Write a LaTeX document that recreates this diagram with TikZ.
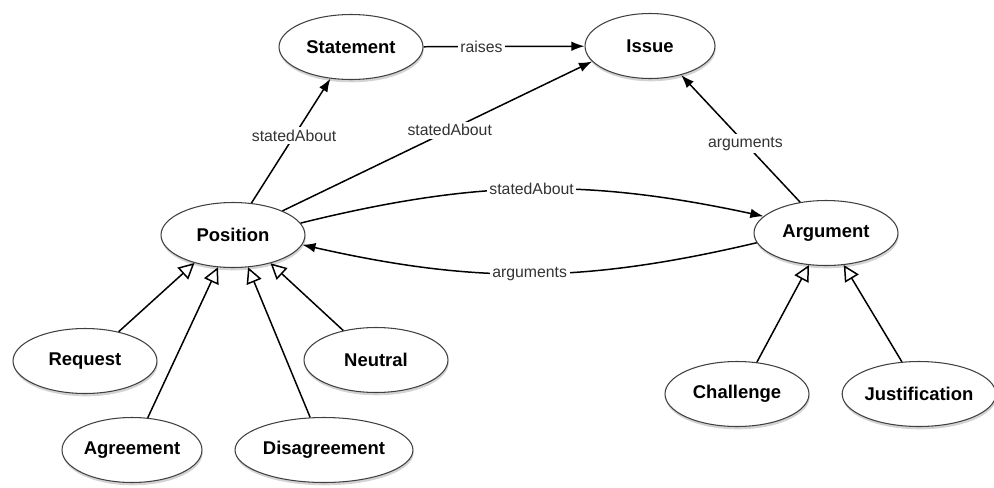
\documentclass[tikz,border=0pt]{standalone}
\usepackage{fontspec}
\setmainfont{Liberation Sans}
\usetikzlibrary{arrows.meta}
\usetikzlibrary{shapes.geometric}
\usetikzlibrary{shadows}
\tikzset{concept/.style = {ellipse, draw = black!75, line width = 0.6pt, fill = white,
    minimum width = 2.88cm, minimum height = 1.3cm, inner sep = 0,
    font = \bfseries\fontsize{10.5}{12}\selectfont,
    drop shadow = {shadow xshift = 0.4pt, shadow yshift = -1.6pt, opacity = 0.35}}}
\tikzset{rel/.style = {draw, line width = 0.85pt, -{Latex[length = 7.5pt, width = 5.5pt]}}}
\tikzset{isa/.style = {draw, line width = 0.85pt, -{Triangle[open, length = 9pt, width = 9pt, fill = white]}}}
\tikzset{lbl/.style = {fill = white, inner sep = 1.5pt, text = black!80, font = \fontsize{9}{10}\selectfont}}
\begin{document}
\begin{tikzpicture}[x=0.02cm, y=-0.02cm]
\useasboundingbox (0, 0) rectangle (994, 487);
% \draw [gray] (0, 0) rectangle (994, 487);

      \node [concept] (stmt) at (351, 47) {Statement};
      \node [concept, minimum width = 2.6cm] (iss) at (650, 46) {Issue};
      \node [concept] (pos) at (233, 235) {Position};
      \node [concept] (arg) at (826, 233) {Argument};

      \node [concept] (req) at (85, 361) {Request};
      \node [concept] (neu) at (376, 360) {Neutral};
      \node [concept, minimum width = 2.8cm] (agr) at (132, 450) {Agreement};
      \node [concept, minimum width = 3.56cm] (dis) at (324, 450) {Disagreement};
      \node [concept] (chl) at (737, 394) {Challenge};
      \node [concept, minimum width = 3cm] (jus) at (919, 394) {Justification};

      \draw [rel] (stmt) -- node [lbl, pos = 0.36] {raises} (iss);
      \draw [rel] (pos.60) -- node [lbl, pos = 0.54] {statedAbout} (stmt.-123);
      \draw [rel] (pos.26) -- node [lbl, pos = 0.54] {statedAbout} (iss.195);
      \draw [rel] (pos.10) to [bend left = 13] node [lbl] {statedAbout} (arg.165);
      \draw [rel] (arg.188) to [bend left = 13] node [lbl] {arguments} (pos.-8);
      \draw [rel] (arg.130) -- node [lbl, pos = 0.46] {arguments} (iss.-43);

      \draw [isa] (req.41) -- (pos.-144);
      \draw [isa] (agr.64) -- (pos.-115);
      \draw [isa] (dis.113) -- (pos.-65);
      \draw [isa] (neu.138) -- (pos.-37);
      \draw [isa] (chl.58) -- (arg.-118);
      \draw [isa] (jus.118) -- (arg.-61);
    \end{tikzpicture}
\end{document}
